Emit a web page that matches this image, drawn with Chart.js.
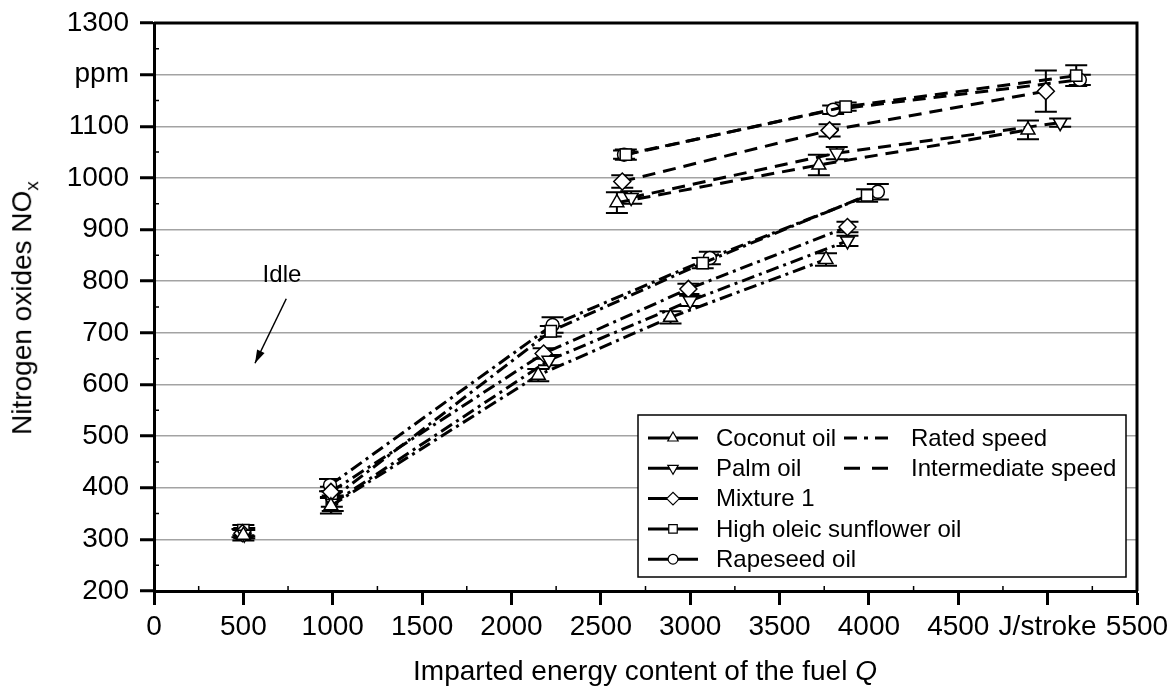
<!DOCTYPE html>
<html>
<head>
<meta charset="utf-8">
<title>NOx vs imparted energy</title>
<script src="https://cdn.jsdelivr.net/npm/chart.js@4.4.1/dist/chart.umd.min.js"></script>
<style>
    body { margin: 0; background: #fff; font-family: Arial, 'Liberation Sans', sans-serif; }
    #wrap { position: relative; width: 1176px; height: 689px; }
    #xTitle { position: absolute; left: 153px; width: 984px; top: 655px; line-height: 32px; text-align: center; font-size: 28px; color: #000; }
    #yTitle { position: absolute; left: 27px; top: 308px; line-height: 32px; transform: translate(-50%, -50%) rotate(-90deg); white-space: nowrap; font-size: 28px; color: #000; }
    #yTitle sub { font-size: 19px; }
</style>
</head>
<body>
<div id="wrap">
    <canvas id="noxChart"></canvas>
    <div id="yTitle">Nitrogen oxides NO<sub>x</sub></div>
    <div id="xTitle">Imparted energy content of the fuel <i>Q</i></div>
</div>
<script>
// fuels and their markers
const fuels = ['Coconut oil', 'Palm oil', 'Mixture 1', 'High oleic sunflower oil', 'Rapeseed oil'];
const markerStyles = ['triangle', 'triangle', 'rectRot', 'rect', 'circle'];
const markerRotations = [0, 180, 0, 0, 0];
const markerSizes = [8, 8, 8.5, 8, 6.5];

// idle (J/stroke, ppm, +/- ppm)
const idleQ = [500, 505, 495, 500, 505];
const idleNOx = [308, 310, 312, 318, 314];
const idleErr = [10, 8, 8, 10, 8];

// rated speed (dash-dot)
const ratedQ = [
    [990, 2150, 2890, 3760],
    [1000, 2210, 3000, 3880],
    [990, 2180, 2990, 3880],
    [995, 2220, 3070, 3990],
    [985, 2230, 3110, 4050]
];
const ratedNOx = [
    [365, 618, 730, 842],
    [370, 647, 762, 878],
    [392, 660, 785, 905],
    [378, 703, 835, 966],
    [405, 715, 845, 973]
];
const ratedErr = [
    [15, 12, 12, 12],
    [15, 10, 10, 10],
    [10, 10, 10, 10],
    [15, 10, 10, 12],
    [12, 15, 12, 15]
];

// intermediate speed (dashed)
const interQ = [
    [2590, 3720, 4890],
    [2670, 3820, 5070],
    [2620, 3780, 4990],
    [2640, 3870, 5160],
    [2630, 3800, 5180]
];
const interNOx = [
    [952, 1025, 1093],
    [962, 1048, 1107],
    [993, 1092, 1168],
    [1045, 1138, 1198],
    [1045, 1132, 1190]
];
const interErr = [
    [20, 20, 18],
    [12, 12, 8],
    [12, 12, 40],
    [10, 8, 20],
    [8, 8, 10]
];

const xTicks = { min: 0, max: 5500, step: 500, unitAt: 5000, unit: 'J/stroke' };
const yTicks = { min: 200, max: 1300, step: 100, unitAt: 1200, unit: 'ppm' };

// "Idle" note with arrow, in data units
const idleNote = { text: 'Idle', q: 716, nox: 812, fromQ: 740, fromNOx: 766, toQ: 565, toNOx: 641 };

const FONT = "Arial, 'Liberation Sans', sans-serif";
const DASH_RATED = [13, 5, 3, 5];
const DASH_INTER = [13, 8];
const LEGEND_RATED = [13, 7, 4, 7, 13, 20];
const LEGEND_INTER = [16, 12, 16, 20];

function points(qs, vs) {
    return qs.map((q, i) => ({ x: q, y: vs[i] }));
}

const datasets = [];
fuels.forEach((name, f) => {
    const marker = {
        pointStyle: markerStyles[f],
        rotation: markerRotations[f],
        pointRadius: markerSizes[f],
        pointHoverRadius: markerSizes[f],
        pointBackgroundColor: '#fff',
        pointBorderColor: '#000',
        pointBorderWidth: 1.5,
        borderColor: '#000',
        backgroundColor: '#fff'
    };
    datasets.push(Object.assign({
        label: name + ' rated',
        data: points(ratedQ[f], ratedNOx[f]),
        errors: ratedErr[f],
        showLine: true,
        borderWidth: 3,
        borderDash: DASH_RATED
    }, marker));
    datasets.push(Object.assign({
        label: name + ' intermediate',
        data: points(interQ[f], interNOx[f]),
        errors: interErr[f],
        showLine: true,
        borderWidth: 3,
        borderDash: DASH_INTER
    }, marker));
    datasets.push(Object.assign({
        label: name + ' idle',
        data: [{ x: idleQ[f], y: idleNOx[f] }],
        errors: [idleErr[f]],
        showLine: false
    }, marker));
});

// error bars, drawn under the markers
const errorBars = {
    id: 'errorBars',
    beforeDatasetsDraw(chart) {
        const ctx = chart.ctx;
        const yS = chart.scales.y;
        ctx.save();
        ctx.strokeStyle = '#000';
        ctx.lineWidth = 2;
        chart.data.datasets.forEach((ds, i) => {
            if (!ds.errors) return;
            chart.getDatasetMeta(i).data.forEach((el, j) => {
                const v = ds.data[j].y, e = ds.errors[j];
                const top = yS.getPixelForValue(v + e), bot = yS.getPixelForValue(v - e);
                ctx.beginPath();
                ctx.moveTo(el.x, top); ctx.lineTo(el.x, bot);
                ctx.moveTo(el.x - 11, top); ctx.lineTo(el.x + 11, top);
                ctx.moveTo(el.x - 11, bot); ctx.lineTo(el.x + 11, bot);
                ctx.stroke();
            });
        });
        ctx.restore();
    }
};

// frame, minor ticks, idle note and legend
const decorations = {
    id: 'decorations',
    afterDraw(chart) {
        const ctx = chart.ctx;
        const a = chart.chartArea;
        const xS = chart.scales.x, yS = chart.scales.y;
        ctx.save();

        // minor ticks inside
        ctx.strokeStyle = '#000';
        ctx.lineWidth = 1.5;
        ctx.beginPath();
        for (let q = xTicks.min + xTicks.step / 2; q < xTicks.max; q += xTicks.step) {
            const px = xS.getPixelForValue(q);
            ctx.moveTo(px, a.bottom); ctx.lineTo(px, a.bottom - 5);
        }
        for (let v = yTicks.min + yTicks.step / 2; v < yTicks.max; v += yTicks.step) {
            const py = yS.getPixelForValue(v);
            ctx.moveTo(a.left, py); ctx.lineTo(a.left + 5, py);
        }
        ctx.stroke();

        // top and right frame
        ctx.lineWidth = 3;
        ctx.beginPath();
        ctx.moveTo(a.left, a.top); ctx.lineTo(a.right, a.top); ctx.lineTo(a.right, a.bottom);
        ctx.stroke();

        // Idle note
        ctx.fillStyle = '#000';
        ctx.font = '24px ' + FONT;
        ctx.textAlign = 'center';
        ctx.textBaseline = 'middle';
        ctx.fillText(idleNote.text, xS.getPixelForValue(idleNote.q), yS.getPixelForValue(idleNote.nox));
        const x1 = xS.getPixelForValue(idleNote.fromQ), y1 = yS.getPixelForValue(idleNote.fromNOx);
        const x2 = xS.getPixelForValue(idleNote.toQ), y2 = yS.getPixelForValue(idleNote.toNOx);
        ctx.lineWidth = 1.5;
        ctx.beginPath(); ctx.moveTo(x1, y1); ctx.lineTo(x2, y2); ctx.stroke();
        const ang = Math.atan2(y2 - y1, x2 - x1);
        ctx.beginPath();
        ctx.moveTo(x2, y2);
        ctx.lineTo(x2 - 14 * Math.cos(ang - 0.3), y2 - 14 * Math.sin(ang - 0.3));
        ctx.lineTo(x2 - 14 * Math.cos(ang + 0.3), y2 - 14 * Math.sin(ang + 0.3));
        ctx.closePath();
        ctx.fill();

        // legend box
        const box = { left: 638, top: 415, right: 1126, bottom: 577 };
        ctx.fillStyle = '#fff';
        ctx.fillRect(box.left, box.top, box.right - box.left, box.bottom - box.top);
        ctx.strokeStyle = '#000';
        ctx.lineWidth = 1.5;
        ctx.strokeRect(box.left, box.top, box.right - box.left, box.bottom - box.top);

        ctx.textAlign = 'left';
        ctx.font = '24px ' + FONT;
        fuels.forEach((name, f) => {
            const y = 438 + f * 30.3;
            ctx.strokeStyle = '#000';
            ctx.lineWidth = 3;
            ctx.setLineDash([]);
            ctx.beginPath(); ctx.moveTo(648, y); ctx.lineTo(698, y); ctx.stroke();
            ctx.fillStyle = '#fff';
            ctx.lineWidth = 1.2;
            Chart.helpers.drawPoint(ctx, {
                pointStyle: markerStyles[f], rotation: markerRotations[f],
                radius: markerSizes[f] * 0.75, borderWidth: 1.2
            }, 673, y);
            ctx.fillStyle = '#000';
            ctx.fillText(name, 716, y + 1);
        });
        const styles = [['Rated speed', LEGEND_RATED], ['Intermediate speed', LEGEND_INTER]];
        styles.forEach(([name, dash], k) => {
            const y = 438 + k * 30.3;
            ctx.strokeStyle = '#000';
            ctx.lineWidth = 3;
            ctx.setLineDash(dash);
            ctx.beginPath(); ctx.moveTo(844, y); ctx.lineTo(888, y); ctx.stroke();
            ctx.setLineDash([]);
            ctx.fillStyle = '#000';
            ctx.fillText(name, 911, y + 1);
        });
        ctx.restore();
    }
};

new Chart(document.getElementById('noxChart'), {
    type: 'scatter',
    data: { datasets: datasets },
    options: {
        responsive: true,
        maintainAspectRatio: false,
        animation: false,
        layout: { padding: { left: 0, top: 23, right: 39, bottom: 0 } },
        plugins: { legend: { display: false }, tooltip: { enabled: false } },
        scales: {
            x: {
                type: 'linear',
                min: xTicks.min, max: xTicks.max,
                afterFit: s => { s.height = 98; },
                ticks: {
                    stepSize: xTicks.step, autoSkip: false, maxRotation: 0, padding: 5,
                    color: '#000', font: { family: FONT, size: 28 },
                    callback: v => v === xTicks.unitAt ? xTicks.unit : v
                },
                grid: { drawOnChartArea: false, tickLength: 14, tickColor: '#000', tickWidth: 3 },
                border: { color: '#000', width: 3 }
            },
            y: {
                type: 'linear',
                min: yTicks.min, max: yTicks.max,
                afterFit: s => { s.width = 154; s.paddingTop = 0; s.paddingBottom = 0; },
                ticks: {
                    stepSize: yTicks.step, autoSkip: false, padding: 11,
                    color: '#000', font: { family: FONT, size: 28 },
                    callback: v => v === yTicks.unitAt ? yTicks.unit : v
                },
                grid: { color: '#a3a3a3', lineWidth: 1.5, tickLength: 14, tickColor: '#000', tickWidth: 3 },
                border: { color: '#000', width: 3 }
            }
        }
    },
    plugins: [errorBars, decorations]
});
</script>
</body>
</html>
